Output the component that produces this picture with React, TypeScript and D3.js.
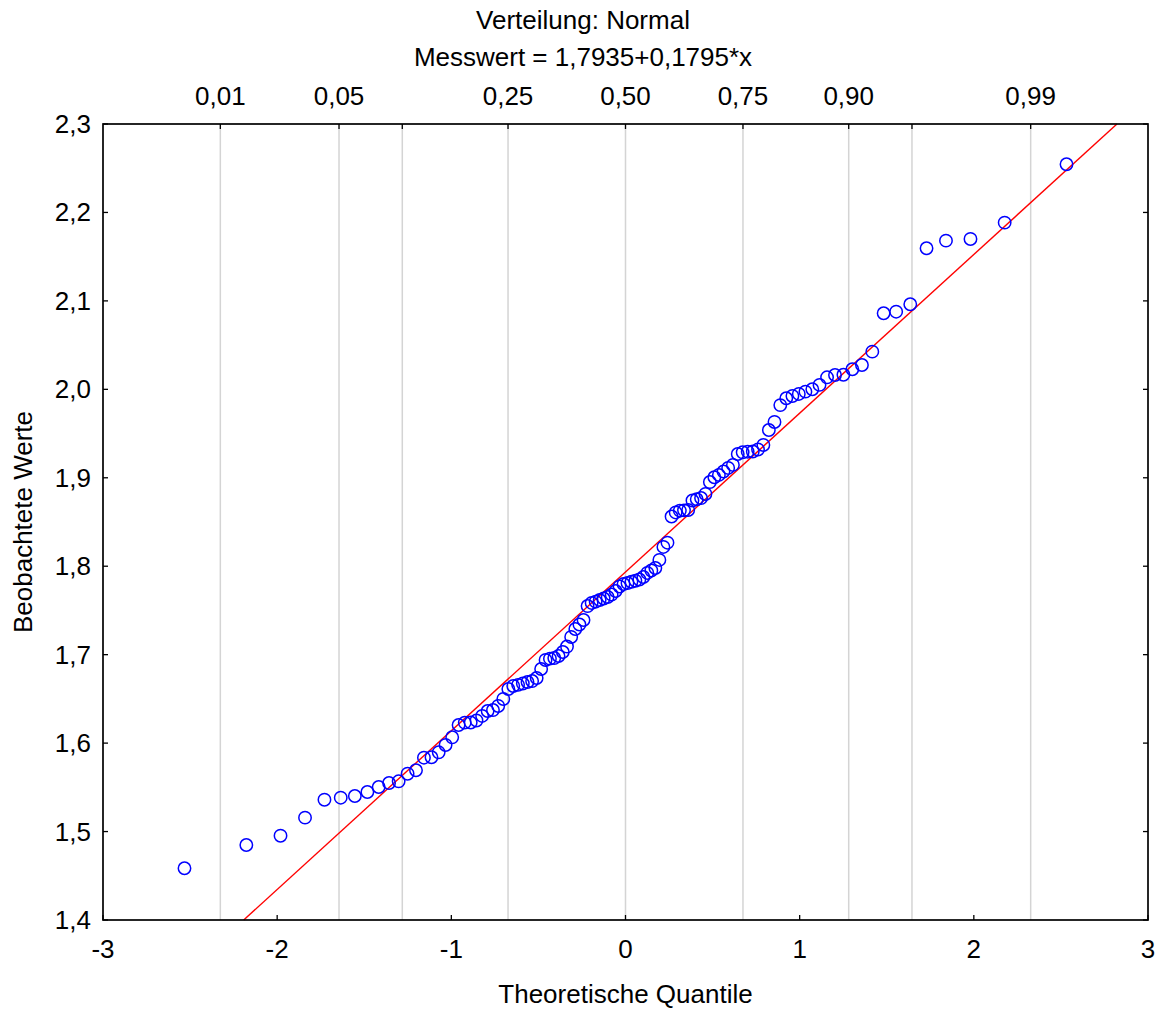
import React from "react";
import * as d3 from "d3";

// Observed values, sorted ascending (n = 110)
const observed: number[] = [
  1.4585, 1.4848, 1.4953, 1.5157, 1.536, 1.5383, 1.5402, 1.5447, 1.5504, 1.5549,
  1.5568, 1.5654, 1.5693, 1.5835, 1.584, 1.5896, 1.5979, 1.6066, 1.6205, 1.6232,
  1.6233, 1.6256, 1.6307, 1.6363, 1.6374, 1.642, 1.6499, 1.6612, 1.6646, 1.6659,
  1.6674, 1.6691, 1.6702, 1.6736, 1.6838, 1.694, 1.6955, 1.6962, 1.6985, 1.703,
  1.7092, 1.72, 1.729, 1.7341, 1.7392, 1.755, 1.7585, 1.7599, 1.7618, 1.7635,
  1.7652, 1.768, 1.772, 1.7771, 1.7799, 1.781, 1.7824, 1.7836, 1.785, 1.7878,
  1.7924, 1.7952, 1.798, 1.8071, 1.8218, 1.8266, 1.8562, 1.8608, 1.8628, 1.8632,
  1.8636, 1.8743, 1.8757, 1.8771, 1.8817, 1.8952, 1.9006, 1.9032, 1.9071, 1.9111,
  1.9145, 1.9269, 1.9288, 1.9295, 1.9297, 1.932, 1.9371, 1.954, 1.9631, 1.9822,
  1.9899, 1.9925, 1.9948, 1.9974, 2.0001, 2.005, 2.0136, 2.0162, 2.0165, 2.0227,
  2.0275, 2.0426, 2.086, 2.0878, 2.0962, 2.1595, 2.1681, 2.17, 2.1885, 2.2545,
];

// Fitted reference line: Messwert = intercept + slope * x
const fitIntercept = 1.7935;
const fitSlope = 0.1795;

// Probability ticks along the top axis
const probTicks: number[] = [0.01, 0.05, 0.1, 0.25, 0.5, 0.75, 0.9, 0.95, 0.99];
const probLabels: string[] = ["0,01", "0,05", "", "0,25", "0,50", "0,75", "0,90", "", "0,99"];

const xTicks: number[] = [-3, -2, -1, 0, 1, 2, 3];
const yTicks: number[] = [1.4, 1.5, 1.6, 1.7, 1.8, 1.9, 2.0, 2.1, 2.2, 2.3];

const titleLine1 = "Verteilung: Normal";
const titleLine2 = "Messwert = 1,7935+0,1795*x";
const xTitle = "Theoretische Quantile";
const yTitle = "Beobachtete Werte";

// Inverse of the standard normal CDF (Acklam's rational approximation)
function normInv(p: number): number {
  const a = [-3.969683028665376e1, 2.209460984245205e2, -2.759285104469687e2, 1.38357751867269e2, -3.066479806614716e1, 2.506628277459239];
  const b = [-5.447609879822406e1, 1.615858368580409e2, -1.556989798598866e2, 6.680131188771972e1, -1.328068155288572e1];
  const c = [-7.784894002430293e-3, -3.223964580411365e-1, -2.400758277161838, -2.549732539343734, 4.374664141464968, 2.938163982698783];
  const d = [7.784695709041462e-3, 3.224671290700398e-1, 2.445134137142996, 3.754408661907416];
  const plow = 0.02425;
  if (p < plow) {
    const q = Math.sqrt(-2 * Math.log(p));
    return (((((c[0] * q + c[1]) * q + c[2]) * q + c[3]) * q + c[4]) * q + c[5]) /
      ((((d[0] * q + d[1]) * q + d[2]) * q + d[3]) * q + 1);
  }
  if (p > 1 - plow) {
    const q = Math.sqrt(-2 * Math.log(1 - p));
    return -(((((c[0] * q + c[1]) * q + c[2]) * q + c[3]) * q + c[4]) * q + c[5]) /
      ((((d[0] * q + d[1]) * q + d[2]) * q + d[3]) * q + 1);
  }
  const q = p - 0.5;
  const r = q * q;
  return (((((a[0] * r + a[1]) * r + a[2]) * r + a[3]) * r + a[4]) * r + a[5]) * q /
    (((((b[0] * r + b[1]) * r + b[2]) * r + b[3]) * r + b[4]) * r + 1);
}

const W = 1166;
const H = 1010;
const margin = { left: 103, right: 18, top: 124, bottom: 90 };
const FONT = "Arial, 'Liberation Sans', sans-serif";
const FS = 26;

const de = d3.formatLocale({ decimal: ",", thousands: ".", grouping: [3], currency: ["", " €"] });
const fmtY = de.format(".1f");

export default function App() {
  const x = d3.scaleLinear().domain([-3, 3]).range([margin.left, W - margin.right]);
  const y = d3.scaleLinear().domain([1.4, 2.3]).range([H - margin.bottom, margin.top]);
  const x0 = x.range()[0], x1 = x.range()[1];
  const y0 = y.range()[0], y1 = y.range()[1];

  // Blom plotting positions -> theoretical normal quantiles
  const n = observed.length;
  const points = observed.map((v, i) => ({
    q: normInv((i + 1 - 0.375) / (n + 0.25)),
    v,
  }));

  // Fit line clipped to the plot frame
  const xa = (1.4 - fitIntercept) / fitSlope;
  const xb = (2.3 - fitIntercept) / fitSlope;
  const fitLine = d3.line<number>()
    .x((q) => x(q))
    .y((q) => y(fitIntercept + fitSlope * q));

  const tick = 5;

  return (
    <svg width={W} height={H} style={{ position: "absolute", left: 0, top: 0, background: "#fff" }}
      fontFamily={FONT}>
      <rect x={0} y={0} width={W} height={H} fill="#fff" />

      {/* vertical reference lines at probability levels */}
      {probTicks.map((p, i) => (
        <line key={"g" + i} x1={x(normInv(p))} x2={x(normInv(p))} y1={y1} y2={y0}
          stroke="#d4d4d4" strokeWidth={1.5} />
      ))}

      {/* fitted line */}
      <path d={fitLine([xa, Math.min(xb, 3)]) || ""} fill="none" stroke="#ff0000" strokeWidth={1.4} />

      {/* observations */}
      {points.map((d, i) => (
        <circle key={"p" + i} cx={x(d.q)} cy={y(d.v)} r={6.2} fill="none" stroke="#0000ff" strokeWidth={1.5} />
      ))}

      {/* frame */}
      <rect x={x0} y={y1} width={x1 - x0} height={y0 - y1} fill="none" stroke="#000" strokeWidth={1.7} />

      {/* bottom ticks and labels */}
      {xTicks.map((t) => (
        <g key={"xt" + t}>
          <line x1={x(t)} x2={x(t)} y1={y0} y2={y0 - tick} stroke="#000" strokeWidth={1.3} />
          <text x={x(t)} y={y0 + 38} textAnchor="middle" fontSize={FS}>{String(t)}</text>
        </g>
      ))}

      {/* left and right ticks, left labels */}
      {yTicks.map((t) => (
        <g key={"yt" + t}>
          <line x1={x0} x2={x0 + tick} y1={y(t)} y2={y(t)} stroke="#000" strokeWidth={1.3} />
          <line x1={x1} x2={x1 - tick} y1={y(t)} y2={y(t)} stroke="#000" strokeWidth={1.3} />
          <text x={x0 - 12} y={y(t) + 9} textAnchor="end" fontSize={FS}>{fmtY(t)}</text>
        </g>
      ))}

      {/* top probability ticks and labels */}
      {probTicks.map((p, i) => (
        <g key={"pt" + i}>
          <line x1={x(normInv(p))} x2={x(normInv(p))} y1={y1} y2={y1 + tick} stroke="#000" strokeWidth={1.3} />
          {probLabels[i] ? (
            <text x={x(normInv(p))} y={y1 - 19} textAnchor="middle" fontSize={FS}>{probLabels[i]}</text>
          ) : null}
        </g>
      ))}

      {/* titles */}
      <text x={W / 2} y={29} textAnchor="middle" fontSize={FS}>{titleLine1}</text>
      <text x={W / 2} y={66} textAnchor="middle" fontSize={FS}>{titleLine2}</text>
      <text x={(x0 + x1) / 2} y={1003} textAnchor="middle" fontSize={FS}>{xTitle}</text>
      <text transform={`translate(32, ${(y0 + y1) / 2}) rotate(-90)`} textAnchor="middle" fontSize={FS}>{yTitle}</text>
    </svg>
  );
}
